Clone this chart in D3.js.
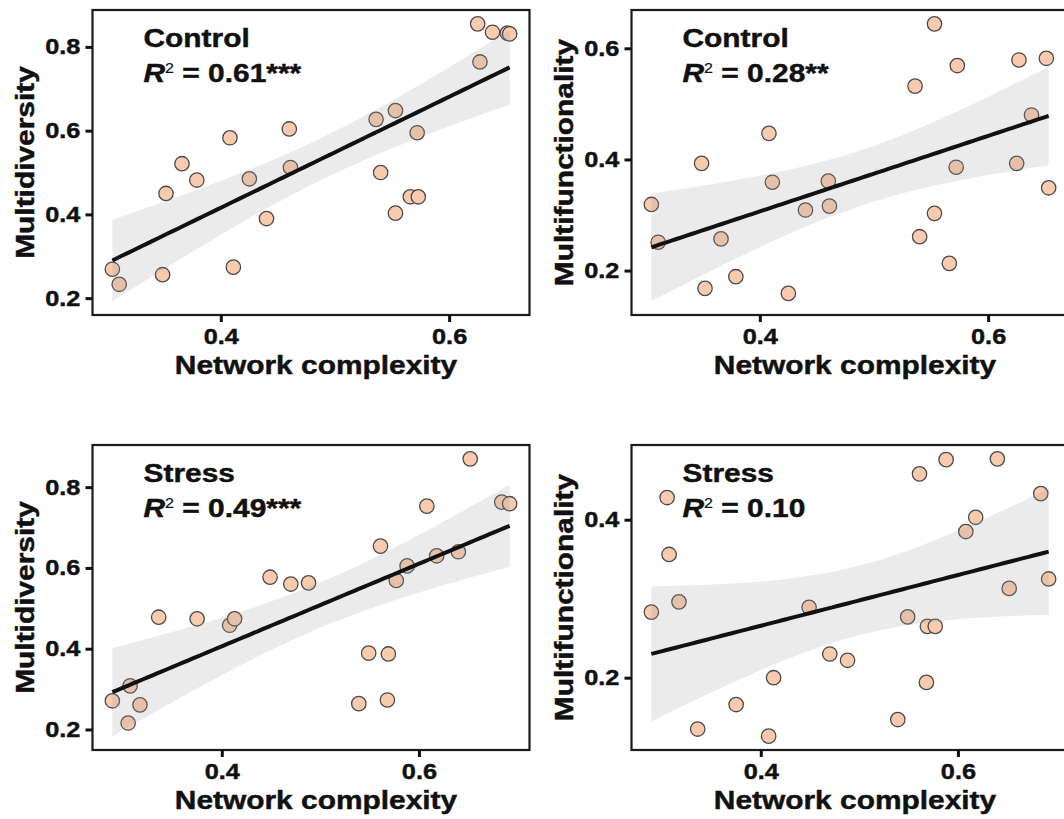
<!DOCTYPE html>
<html>
<head>
<meta charset="utf-8">
<script src="https://cdn.jsdelivr.net/npm/d3@7"></script>
<style>
  body { margin: 0; background: #fff; }
  svg { display: block; font-family: 'Liberation Sans', Arial, sans-serif; }
  .heavy { stroke: #111; stroke-width: 0.45px; }
</style>
</head>
<body>
<div id="chart"></div>
<script>
// network complexity is shared by both response variables within a treatment
const controlComplexity = [0.305, 0.311, 0.349, 0.352, 0.366, 0.379, 0.408, 0.411, 0.425, 0.440, 0.460, 0.461,
  0.536, 0.540, 0.553, 0.553, 0.566, 0.572, 0.573, 0.625, 0.627, 0.638, 0.651, 0.653]
const controlMultidiversity = [0.269, 0.233, 0.256, 0.450, 0.521, 0.482, 0.583, 0.274, 0.485, 0.390, 0.604, 0.512,
  0.627, 0.500, 0.403, 0.648, 0.442, 0.595, 0.442, 0.855, 0.764, 0.835, 0.833, 0.831]
const controlMultifunctionality = [0.319, 0.251, 0.393, 0.168, 0.257, 0.189, 0.447, 0.359, 0.159, 0.309, 0.361, 0.316,
  0.532, 0.261, 0.303, 0.644, 0.213, 0.386, 0.569, 0.393, 0.579, 0.480, 0.582, 0.349]

const stressComplexity = [0.289, 0.305, 0.307, 0.317, 0.336, 0.375, 0.408, 0.413, 0.449, 0.470, 0.488, 0.539,
  0.549, 0.561, 0.568, 0.569, 0.577, 0.588, 0.608, 0.618, 0.640, 0.652, 0.684, 0.692]
const stressMultidiversity = [0.271, 0.216, 0.308, 0.261, 0.478, 0.474, 0.458, 0.474, 0.577, 0.560, 0.563, 0.264,
  0.389, 0.654, 0.273, 0.387, 0.569, 0.605, 0.753, 0.630, 0.640, 0.870, 0.763, 0.759]
const stressMultifunctionality = [0.283, 0.428, 0.356, 0.296, 0.135, 0.166, 0.126, 0.200, 0.289, 0.230, 0.222, 0.147,
  0.277, 0.458, 0.194, 0.265, 0.265, 0.476, 0.385, 0.403, 0.477, 0.313, 0.433, 0.325]

const groups = ['Control', 'Control', 'Stress', 'Stress']
const r2Values = ['0.61***', '0.28**', '0.49***', '0.10']
const yTitles = ['Multidiversity', 'Multifunctionality', 'Multidiversity', 'Multifunctionality']
const xTicks = [0.4, 0.6]
const yTicks = [[0.2, 0.4, 0.6, 0.8], [0.2, 0.4, 0.6], [0.2, 0.4, 0.6, 0.8], [0.2, 0.4]]

const T_975 = 2.073873 // t quantile, df = 22
const STRETCH = 1.15

const width = 1064
const height = 819
const panelW = 437
const panelH = 305
const lefts = [92.5, 631.5, 92.5, 631.5]
const tops = [10, 10, 445, 445]

const series = [
  [controlComplexity, controlMultidiversity],
  [controlComplexity, controlMultifunctionality],
  [stressComplexity, stressMultidiversity],
  [stressComplexity, stressMultifunctionality]
]

function linearFit(xs, ys) {
  const n = xs.length
  const mx = d3.mean(xs)
  const my = d3.mean(ys)
  const sxx = d3.sum(xs, (x) => (x - mx) ** 2)
  const sxy = d3.sum(xs, (x, i) => (x - mx) * (ys[i] - my))
  const b = sxy / sxx
  const a = my - b * mx
  const s = Math.sqrt(d3.sum(xs, (x, i) => (ys[i] - a - b * x) ** 2) / (n - 2))
  const [x0, x1] = d3.extent(xs)
  return d3.range(80).map((k) => {
    const x = x0 + (k / 79) * (x1 - x0)
    const fit = a + b * x
    const se = s * Math.sqrt(1 / n + (x - mx) ** 2 / sxx)
    return { x, fit, lo: fit - T_975 * se, hi: fit + T_975 * se }
  })
}

function expand([lo, hi]) {
  const pad = (hi - lo) * 0.05
  return [lo - pad, hi + pad]
}

const svg = d3.select('#chart').append('svg')
  .attr('width', width)
  .attr('height', height)

series.forEach(([xs, ys], p) => {
  const band = linearFit(xs, ys)
  const x = d3.scaleLinear().domain(expand(d3.extent(xs))).range([0, panelW])
  const yExtent = d3.extent([...ys, ...band.map((d) => d.lo), ...band.map((d) => d.hi)])
  const y = d3.scaleLinear().domain(expand(yExtent)).range([panelH, 0])

  const g = svg.append('g').attr('transform', `translate(${lefts[p]},${tops[p]})`)

  const clip = g.append('clipPath').attr('id', `clip${p}`)
  clip.append('rect').attr('width', panelW).attr('height', panelH)
  const plot = g.append('g').attr('clip-path', `url(#clip${p})`)

  plot.selectAll('circle')
    .data(xs.map((v, i) => [v, ys[i]]))
    .join('circle')
    .attr('cx', (d) => x(d[0]))
    .attr('cy', (d) => y(d[1]))
    .attr('r', 7.2)
    .attr('fill', '#f9cbae')
    .attr('stroke', '#4a4a4a')
    .attr('stroke-width', 1.3)

  plot.append('path')
    .datum(band)
    .attr('fill', '#999999')
    .attr('fill-opacity', 0.2)
    .attr('d', d3.area().x((d) => x(d.x)).y0((d) => y(d.lo)).y1((d) => y(d.hi)))

  plot.append('path')
    .datum(band)
    .attr('fill', 'none')
    .attr('stroke', '#111')
    .attr('stroke-width', 4)
    .attr('d', d3.line().x((d) => x(d.x)).y((d) => y(d.fit)))

  g.append('rect')
    .attr('width', panelW)
    .attr('height', panelH)
    .attr('fill', 'none')
    .attr('stroke', '#1a1a1a')
    .attr('stroke-width', 2.2)

  const xAxis = g.append('g')
    .attr('transform', `translate(0,${panelH})`)
    .call(d3.axisBottom(x).tickValues(xTicks).tickFormat(d3.format('.1f')).tickSize(7).tickPadding(6))
  const yAxis = g.append('g')
    .call(d3.axisLeft(y).tickValues(yTicks[p]).tickFormat(d3.format('.1f')).tickSize(7).tickPadding(3.5))

  ;[xAxis, yAxis].forEach((ax) => {
    ax.select('.domain').remove()
    ax.selectAll('.tick line').attr('stroke', '#111').attr('stroke-width', 3)
    ax.selectAll('.tick text')
      .attr('class', 'heavy')
      .attr('fill', '#111')
      .attr('font-size', 22)
      .attr('font-weight', 'bold')
      .attr('transform', `scale(${STRETCH},1)`)
  })
  xAxis.selectAll('.tick text').attr('dy', '0.71em')

  // panel annotation
  const note = g.append('g')
    .attr('class', 'heavy')
    .attr('transform', `translate(51,0) scale(${STRETCH},1)`)
    .attr('font-weight', 'bold')
    .attr('font-size', 26)
    .attr('fill', '#111')
  note.append('text').attr('y', 36.7).text(groups[p])
  const r2 = note.append('text').attr('y', 72.5)
  r2.append('tspan').attr('font-style', 'italic').text('R')
  r2.append('tspan').attr('font-size', 14).attr('font-weight', 'normal').attr('stroke-width', 0.2).attr('dy', -9.5).text('2')
  r2.append('tspan').attr('dy', 9.5).text(` = ${r2Values[p]}`)

  g.append('text')
    .attr('class', 'heavy')
    .attr('transform', `translate(-59,${panelH / 2}) rotate(-90) scale(${STRETCH},1)`)
    .attr('text-anchor', 'middle')
    .attr('font-size', 26)
    .attr('font-weight', 'bold')
    .attr('fill', '#111')
    .text(yTitles[p])

  g.append('text')
    .attr('class', 'heavy')
    .attr('transform', `translate(${panelW / 2 + 5},${panelH + 59}) scale(${STRETCH},1)`)
    .attr('text-anchor', 'middle')
    .attr('font-size', 26)
    .attr('font-weight', 'bold')
    .attr('fill', '#111')
    .text('Network complexity')
})
</script>
</body>
</html>
